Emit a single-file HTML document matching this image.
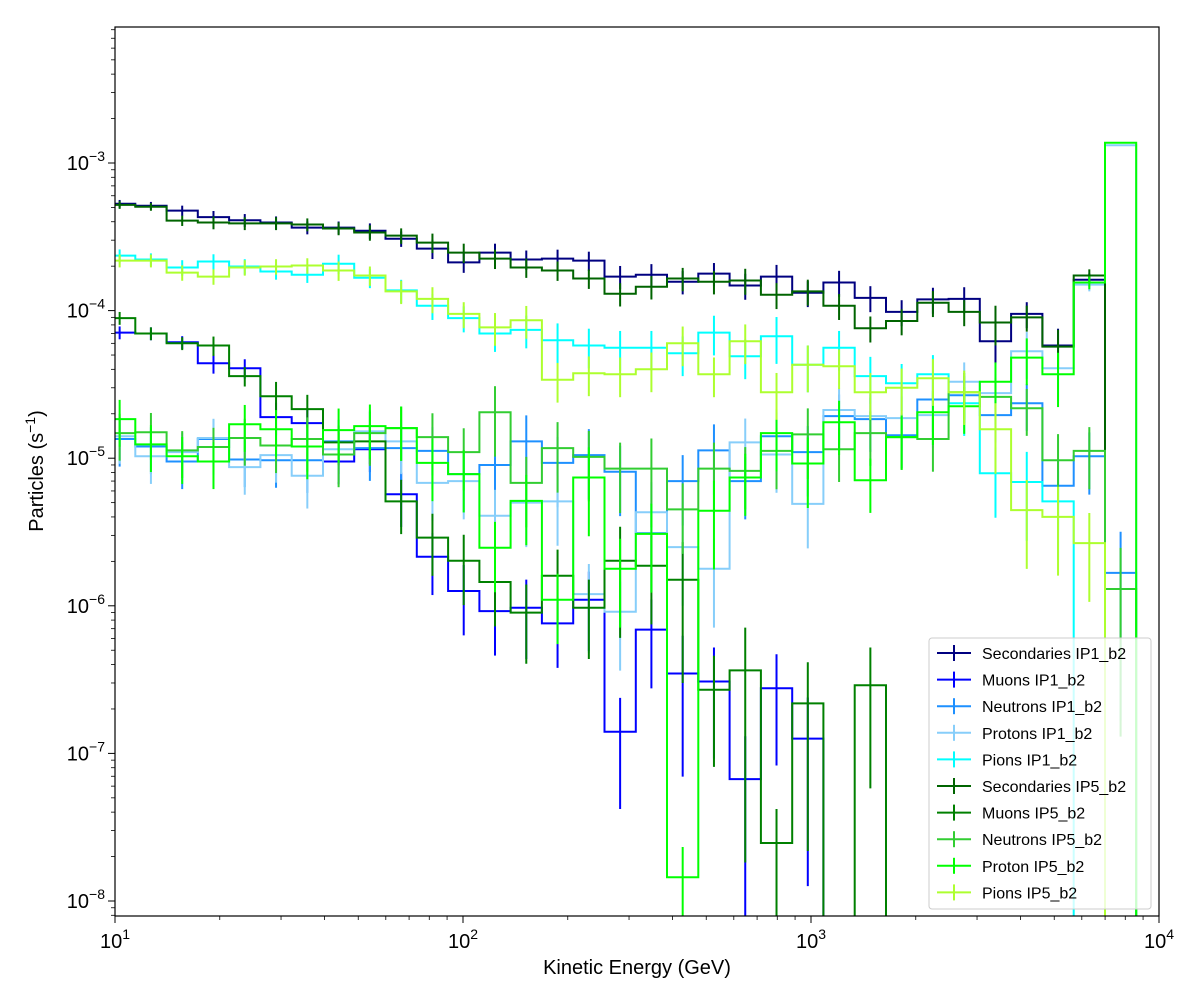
<!DOCTYPE html>
<html><head><meta charset="utf-8">
<style>
html,body{margin:0;padding:0;background:#fff;}
svg text{font-family:"Liberation Sans","DejaVu Sans",sans-serif;}
</style></head>
<body>
<svg id="chart" width="1200" height="1000" xmlns="http://www.w3.org/2000/svg">
<defs><clipPath id="plotclip"><rect x="115" y="27" width="1044" height="889"/></clipPath></defs>
<rect x="0" y="0" width="1200" height="1000" fill="#fff"/>
<g id="series" clip-path="url(#plotclip)"></g>
<rect x="115" y="27" width="1044" height="889" fill="none" stroke="#000" stroke-width="1.2"/>
<g id="ticks"></g>
<text x="637" y="974" font-size="20" text-anchor="middle">Kinetic Energy (GeV)</text>
<text transform="translate(43,471) rotate(-90)" font-size="20" text-anchor="middle">Particles (s<tspan dy="-8" font-size="14">−1</tspan><tspan dy="8">)</tspan></text>
<g id="legend">
<rect x="929" y="638" width="222" height="271" rx="3" fill="#fff" fill-opacity="0.8" stroke="#ccc" stroke-width="1"/>
</g>
</svg>
<script>
// ---- data ----
const seriesNames = ["Secondaries IP1_b2","Muons IP1_b2","Neutrons IP1_b2","Protons IP1_b2","Pions IP1_b2","Secondaries IP5_b2","Muons IP5_b2","Neutrons IP5_b2","Proton IP5_b2","Pions IP5_b2"];
const seriesColors = ["#000080","#0000ff","#1e90ff","#87cefa","#00ffff","#006400","#008000","#32cd32","#00ff00","#adff2f"];
const xTickLabels = ["1","2","3","4"];
const yTickExps = ["-8","-7","-6","-5","-4","-3"];
const secIP1 = [5.3e-4,5.14e-4,4.76e-4,4.3e-4,4.1e-4,3.95e-4,3.65e-4,3.65e-4,3.48e-4,3.07e-4,2.63e-4,2.12e-4,2.47e-4,2.22e-4,2.25e-4,2.18e-4,1.7e-4,1.75e-4,1.57e-4,1.78e-4,1.48e-4,1.7e-4,1.32e-4,1.55e-4,1.22e-4,0.98e-4,1.19e-4,1.2e-4,6.2e-5,9.5e-5,5.8e-5,1.62e-4,0];
const muIP1 = [7.1e-5,7.0e-5,6.1e-5,4.4e-5,4.07e-5,1.9e-5,1.73e-5,9.5e-6,1.15e-5,5.7e-6,2.15e-6,1.26e-6,9.2e-7,9.7e-7,7.6e-7,1.1e-6,1.4e-7,6.9e-7,3.48e-7,3.07e-7,6.7e-8,2.76e-7,1.26e-7,0,0,0,0,0,0,0,0,0,0];
const neuIP1 = [1.35e-5,1.2e-5,9.5e-6,1.35e-5,9.8e-6,9.7e-6,9.7e-6,1.3e-5,1.17e-5,1.17e-5,1.12e-5,7.8e-6,9.0e-6,1.3e-5,9.3e-6,1.05e-5,8.1e-6,3.1e-6,7.0e-6,1.13e-5,7.0e-6,1.41e-5,1.1e-5,1.93e-5,1.84e-5,1.43e-5,2.5e-5,2.67e-5,1.96e-5,2.36e-5,6.5e-6,1.03e-5,1.67e-6];
const proIP1 = [1.41e-5,1.03e-5,1.1e-5,1.37e-5,8.7e-6,1.05e-5,7.6e-6,1.15e-5,1.52e-5,1.3e-5,6.8e-6,7.0e-6,4.07e-6,5.0e-6,5.1e-6,1.2e-6,9.1e-7,4.3e-6,2.5e-6,1.78e-6,1.28e-5,1.06e-5,4.9e-6,2.12e-5,1.93e-5,1.87e-5,1.96e-5,3.3e-5,2.76e-5,5.3e-5,4.07e-5,1.5e-4,1.32e-3];
const pioIP1 = [2.36e-4,2.22e-4,1.96e-4,2.15e-4,1.99e-4,1.84e-4,1.75e-4,2.08e-4,1.67e-4,1.37e-4,1.08e-4,8.9e-5,7.0e-5,7.4e-5,6.3e-5,5.8e-5,5.6e-5,5.6e-5,5.14e-5,7.1e-5,4.9e-5,6.7e-5,4.3e-5,5.6e-5,3.6e-5,3.22e-5,3.7e-5,2.36e-5,7.9e-6,6.9e-6,5.1e-6,0,0];
const secIP5 = [5.2e-4,5.05e-4,4.07e-4,3.95e-4,3.9e-4,3.9e-4,3.83e-4,3.6e-4,3.38e-4,3.22e-4,2.89e-4,2.47e-4,2.25e-4,1.96e-4,1.87e-4,1.65e-4,1.3e-4,1.45e-4,1.65e-4,1.57e-4,1.6e-4,1.28e-4,1.35e-4,1.08e-4,7.6e-5,8.5e-5,1.13e-4,9.8e-5,8.3e-5,9.0e-5,5.7e-5,1.73e-4,0];
const muIP5 = [8.9e-5,7.0e-5,6.0e-5,5.8e-5,3.6e-5,2.63e-5,2.15e-5,1.28e-5,1.3e-5,5.1e-6,2.9e-6,2.02e-6,1.45e-6,9.0e-7,1.6e-6,9.7e-7,2.02e-6,1.87e-6,1.5e-6,2.7e-7,3.65e-7,2.47e-8,2.18e-7,0,2.9e-7,0,0,0,0,0,0,0,0];
const neuIP5 = [1.48e-5,1.5e-5,1.13e-5,1.19e-5,1.37e-5,1.22e-5,1.35e-5,1.06e-5,1.48e-5,1.6e-5,1.39e-5,1.1e-5,2.05e-5,6.8e-6,1.17e-5,1.02e-5,8.5e-6,8.5e-6,4.5e-6,8.5e-6,8.2e-6,1.12e-5,1.45e-5,1.15e-5,1.48e-5,1.39e-5,1.35e-5,2.8e-5,2.6e-5,2.18e-5,9.7e-6,1.12e-5,1.3e-6];
const proIP5 = [1.84e-5,1.24e-5,1.03e-5,9.5e-6,1.7e-5,1.57e-5,1.2e-5,1.55e-5,1.65e-5,1.6e-5,9.3e-6,7.8e-6,2.47e-6,5.14e-6,1.1e-6,7.4e-6,1.78e-6,3.07e-6,1.45e-8,4.4e-6,7.4e-6,1.48e-5,9.2e-6,1.75e-5,7.1e-6,1.39e-5,2.05e-5,2.25e-5,3.3e-5,4.8e-5,3.7e-5,1.55e-4,1.37e-3];
const pioIP5 = [2.18e-4,2.18e-4,1.81e-4,1.7e-4,1.96e-4,1.99e-4,2.02e-4,1.87e-4,1.73e-4,1.35e-4,1.2e-4,9.5e-5,7.7e-5,8.6e-5,3.4e-5,3.76e-5,3.7e-5,4.0e-5,6.0e-5,3.7e-5,6.2e-5,2.8e-5,4.3e-5,4.2e-5,2.8e-5,3.0e-5,3.48e-5,2.8e-5,1.57e-5,4.45e-6,4.0e-6,2.66e-6,0];
// relative errors
const errSec = [0.06,0.06,0.08,0.1,0.1,0.1,0.1,0.1,0.12,0.12,0.15,0.15,0.15,0.15,0.15,0.15,0.18,0.18,0.18,0.18,0.2,0.2,0.2,0.2,0.2,0.2,0.2,0.2,0.3,0.2,0.3,0.1,0];
const errPio = [0.1,0.1,0.12,0.12,0.12,0.12,0.12,0.15,0.15,0.18,0.2,0.2,0.25,0.25,0.3,0.3,0.3,0.3,0.3,0.3,0.3,0.35,0.35,0.3,0.35,0.35,0.35,0.4,0.5,0.6,0.6,0.6,0];
const errNeu = [0.35,0.35,0.35,0.35,0.35,0.35,0.4,0.4,0.4,0.4,0.45,0.45,0.5,0.5,0.5,0.5,0.5,0.6,0.5,0.5,0.45,0.45,0.5,0.4,0.4,0.4,0.4,0.35,0.35,0.35,0.5,0.45,0.9];
const errPro = [0.35,0.35,0.35,0.35,0.35,0.35,0.4,0.4,0.4,0.4,0.45,0.45,0.5,0.5,0.5,0.6,0.6,0.6,0.6,0.6,0.45,0.45,0.5,0.4,0.4,0.4,0.4,0.35,0.35,0.35,0.4,0.1,0.01];
const errMu = [0.1,0.1,0.1,0.15,0.15,0.25,0.25,0.3,0.3,0.4,0.45,0.5,0.5,0.55,0.5,0.55,0.7,0.6,0.8,0.7,0.95,0.7,0.9,0,0.8,0,0,0,0,0,0,0,0];
const seriesValues = [secIP1,muIP1,neuIP1,proIP1,pioIP1,secIP5,muIP5,neuIP5,proIP5,pioIP5];
const seriesErrors = [errSec,errMu,errNeu,errPro,errPio,errSec,errMu,errNeu,errPro,errPio];
// ---- axes ----
const X0=115,X1=1159,Y0=27,Y1=916;
const xLogMin=1,xLogMax=4;
function xs(e){return X0+(Math.log10(e)-xLogMin)/(xLogMax-xLogMin)*(X1-X0);}
function ys(v){if(v<=0)return Y1+60;return 163+(-3-Math.log10(v))*147.6;}
const nBins=33, firstEdgeLog=1+(104-115)/348, binStepLog=31.28/348;
const edges=[];for(let k=0;k<=nBins;k++)edges.push(Math.pow(10,firstEdgeLog+k*binStepLog));
const NS="http://www.w3.org/2000/svg";
function mk(tag,attrs,parent){const e=document.createElementNS(NS,tag);for(const k in attrs)e.setAttribute(k,attrs[k]);parent.appendChild(e);return e;}
const gS=document.getElementById('series');
seriesValues.forEach((vals,si)=>{
  const col=seriesColors[si];
  let d="M"+xs(edges[0]).toFixed(1)+","+(Y1+60);
  for(let i=0;i<nBins;i++){const y=ys(vals[i]).toFixed(1);d+=" L"+xs(edges[i]).toFixed(1)+","+y+" L"+xs(edges[i+1]).toFixed(1)+","+y;}
  d+=" L"+xs(edges[nBins]).toFixed(1)+","+(Y1+60);
  const p=mk('path',{d:d,fill:'none',stroke:col,'stroke-width':2},gS);
  
  
  const errs=seriesErrors[si];
  for(let i=0;i<nBins;i++){
    const v=vals[i];if(v<=0)continue;
    const c=Math.sqrt(edges[i]*edges[i+1]);const x=xs(c);
    const r=errs[i];const hi=v*(1+r),lo=v*(1-r);
    const l=mk('line',{x1:x,x2:x,y1:ys(hi),y2:ys(lo),stroke:col,'stroke-width':2},gS);
    
    
  }
});
// ticks
const gT=document.getElementById('ticks');
for(let dcd=1;dcd<=4;dcd++){
  const x=xs(Math.pow(10,dcd));
  mk('line',{x1:x,x2:x,y1:Y1,y2:Y1+7,stroke:'#000','stroke-width':1},gT);
  const t=mk('text',{x:x,y:Y1+32,'font-size':20,'text-anchor':'middle'},gT);
  
  
  t.innerHTML='10<tspan dy="-9" font-size="14">'+xTickLabels[dcd-1]+'</tspan>';
  if(dcd<4)for(let m=2;m<=9;m++){const xm=xs(m*Math.pow(10,dcd));mk('line',{x1:xm,x2:xm,y1:Y1,y2:Y1+4,stroke:'#000','stroke-width':0.8},gT);}
}
for(let j=0;j<yTickExps.length;j++){
  const ex=parseInt(yTickExps[j]);const y=ys(Math.pow(10,ex));
  mk('line',{x1:X0-7,x2:X0,y1:y,y2:y,stroke:'#000','stroke-width':1},gT);
  const t=mk('text',{x:X0-10,y:y+7,'font-size':20,'text-anchor':'end'},gT);
  
  
  t.innerHTML='10<tspan dy="-9" font-size="14">'+yTickExps[j].replace('-','−')+'</tspan>';
}
for(let ex=-9;ex<=-2;ex++)for(let m=2;m<=9;m++){const y=ys(m*Math.pow(10,ex));if(y<Y0||y>Y1)continue;mk('line',{x1:X0-4,x2:X0,y1:y,y2:y,stroke:'#000','stroke-width':0.8},gT);}
// legend
const gL=document.getElementById('legend');
seriesNames.forEach((n,i)=>{
  const y=653+i*26.6;
  const g=mk('g',{},gL);
  
  
  mk('line',{x1:937,x2:971,y1:y,y2:y,stroke:seriesColors[i],'stroke-width':2},g);
  mk('line',{x1:954,x2:954,y1:y-8,y2:y+8,stroke:seriesColors[i],'stroke-width':2},g);
  const t=mk('text',{x:982,y:y+6,'font-size':16},g);t.textContent=n;
});
</script>
</body></html>
